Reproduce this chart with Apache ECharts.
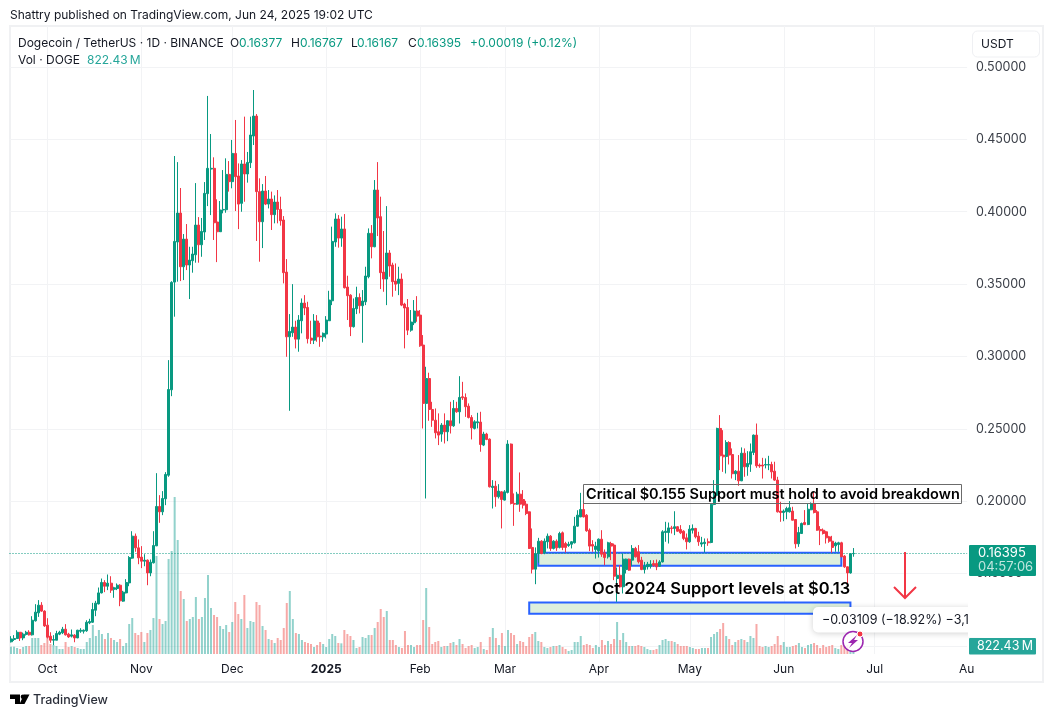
<!DOCTYPE html>
<html>
<head>
<meta charset="utf-8">
<style>html,body{margin:0;padding:0;background:#fff}#container{width:1054px;height:717px}</style>
<script src="https://cdn.jsdelivr.net/npm/echarts@6/dist/echarts.min.js"></script>
</head>
<body>
<div id="container"></div>
<script>
var opens = [
.1029,.1045,.1052,.1095,.1056,.1080,.1095,.1077,.1174,.1229,
.1282,.1241,.1144,.1068,.1040,.1040,.1082,.1091,.1116,.1082,
.1068,.1075,.1056,.1102,.1102,.1105,.1160,.1164,.1247,.1291,
.1367,.1439,.1413,.1434,.1392,.1397,.1420,.1310,.1367,.1436,
.1607,.1759,.1678,.1614,.1586,.1593,.1505,.1575,.1692,.1964,
.1927,.2017,.2180,.2770,.3514,.3791,.3991,.3620,.3811,.3632,
.3662,.3703,.3908,.3772,.3860,.4125,.4295,.4300,.3929,.3862,
.4012,.4014,.4258,.4208,.4403,.4247,.4058,.4330,.4261,.4339,
.4523,.4661,.4139,.3931,.4143,.4053,.4088,.3980,.4067,.4016,
.3943,.3583,.3136,.3164,.3203,.3120,.3247,.3369,.3339,.3127,
.3113,.3245,.3141,.3136,.3155,.3247,.3385,.3791,.3950,.3818,
.3881,.3480,.3424,.3206,.3330,.3408,.3351,.3378,.3551,.3851,
.3758,.4150,.3966,.3583,.3535,.3715,.3632,.3521,.3505,.3535,
.3362,.3339,.3182,.3233,.3314,.3286,.3079,.2676,.2848,.2634,
.2560,.2480,.2464,.2526,.2480,.2556,.2521,.2641,.2618,.2722,
.2717,.2657,.2579,.2503,.2542,.2547,.2388,.2464,.2429,.2095,
.2104,.2031,.2065,.2008,.2061,.2395,.1985,.1980,.2049,.2012,
.1980,.1927,.1681,.1531,.1639,.1724,.1644,.1720,.1759,.1674,
.1724,.1681,.1782,.1708,.1694,.1703,.1713,.1828,.1892,.1943,
.1904,.1800,.1701,.1667,.1657,.1738,.1644,.1616,.1708,.1697,
.1466,.1489,.1409,.1528,.1600,.1593,.1674,.1651,.1593,.1528,
.1547,.1551,.1570,.1570,.1551,.1581,.1784,.1784,.1816,.1812,
.1824,.1805,.1793,.1747,.1720,.1800,.1812,.1759,.1704,.1708,
.1720,.1715,.1978,.2042,.2503,.2319,.2309,.2406,.2323,.2190,
.2208,.2141,.2332,.2238,.2256,.2337,.2457,.2250,.2250,.2250,
.2250,.2254,.2208,.2146,.1932,.1922,.1927,.1927,.1932,.1874,
.1706,.1777,.1853,.1839,.1941,.1985,.1927,.1805,.1800,.1789,
.1754,.1724,.1692,.1701,.1713,.1621,.1547,.1505,.16377];
var closes = [
.1049,.1052,.1095,.1056,.1082,.1095,.1077,.1178,.1234,.1282,
.1241,.1139,.1061,.1040,.1045,.1086,.1095,.1116,.1077,.1063,
.1077,.1056,.1109,.1109,.1109,.1164,.1169,.1252,.1296,.1367,
.1439,.1413,.1434,.1386,.1402,.1420,.1312,.1372,.1439,.1611,
.1759,.1678,.1609,.1586,.1593,.1505,.1579,.1694,.1964,.1927,
.2019,.2185,.2772,.3512,.3795,.3991,.3620,.3811,.3632,.3666,
.3708,.3908,.3772,.3864,.4127,.4300,.4300,.3924,.3862,.4012,
.4016,.4258,.4208,.4403,.4242,.4053,.4330,.4261,.4341,.4530,
.4661,.4139,.3931,.4143,.4053,.4088,.3980,.4067,.4016,.3938,
.3579,.3136,.3173,.3203,.3120,.3252,.3369,.3335,.3123,.3113,
.3245,.3136,.3136,.3160,.3252,.3390,.3795,.3950,.3818,.3881,
.3475,.3420,.3206,.3332,.3408,.3351,.3383,.3556,.3851,.3758,
.4150,.3957,.3579,.3535,.3715,.3625,.3517,.3500,.3535,.3355,
.3335,.3182,.3238,.3314,.3279,.3074,.2676,.2848,.2634,.2560,
.2473,.2457,.2526,.2480,.2556,.2521,.2641,.2618,.2717,.2715,
.2653,.2579,.2507,.2549,.2549,.2392,.2464,.2427,.2100,.2104,
.2031,.2070,.2012,.2065,.2395,.1985,.1980,.2049,.1980,.1973,
.1915,.1674,.1531,.1639,.1724,.1639,.1724,.1759,.1674,.1724,
.1678,.1777,.1681,.1681,.1703,.1720,.1828,.1904,.1943,.1892,
.1796,.1690,.1690,.1690,.1738,.1634,.1611,.1713,.1690,.1482,
.1489,.1409,.1600,.1600,.1524,.1674,.1616,.1582,.1528,.1551,
.1565,.1565,.1558,.1547,.1581,.1789,.1793,.1816,.1812,.1824,
.1793,.1782,.1743,.1720,.1807,.1812,.1754,.1720,.1713,.1717,
.1713,.1978,.2042,.2503,.2314,.2307,.2406,.2319,.2190,.2208,
.2141,.2332,.2238,.2261,.2342,.2457,.2245,.2243,.2243,.2254,
.2254,.2203,.2146,.1927,.1922,.1932,.1950,.1955,.1869,.1706,
.1784,.1846,.1839,.1945,.1985,.1922,.1800,.1796,.1777,.1747,
.1724,.1681,.1711,.1713,.1616,.1547,.1505,.16377,.16395];
var highs = [
.1068,.1075,.1109,.1097,.1093,.1105,.1109,.1206,.1289,.1317,
.1303,.1247,.1192,.1095,.1075,.1105,.1105,.1132,.1151,.1091,
.1114,.1082,.1112,.1123,.1114,.1178,.1188,.1298,.1312,.1404,
.1466,.1455,.1494,.1482,.1409,.1432,.1427,.1381,.1462,.1621,
.1793,.1777,.1736,.1690,.1634,.1598,.1598,.1793,.2194,.2042,
.2070,.2201,.2975,.3520,.4385,.4343,.4164,.3846,.3915,.3758,
.3758,.4198,.3963,.3957,.4205,.4800,.4537,.4376,.4086,.4074,
.4288,.4369,.4350,.4496,.4634,.4334,.4357,.4657,.4413,.4657,
.4841,.4675,.4231,.4191,.4247,.4150,.4139,.4113,.4150,.4104,
.3970,.3673,.3293,.3500,.3247,.3286,.3401,.3424,.3378,.3247,
.3293,.3286,.3233,.3166,.3279,.3454,.3897,.3989,.3977,.3966,
.3984,.3558,.3430,.3401,.3482,.3436,.3459,.3620,.3885,.3908,
.4219,.4343,.4104,.3867,.4039,.3735,.3648,.3643,.3620,.3574,
.3371,.3397,.3321,.3390,.3417,.3321,.3148,.2929,.2888,.2687,
.2641,.2607,.2540,.2607,.2560,.2687,.2699,.2687,.2864,.2825,
.2745,.2676,.2595,.2560,.2611,.2618,.2480,.2473,.2434,.2146,
.2141,.2118,.2070,.2077,.2422,.2399,.2054,.2065,.2199,.2077,
.2003,.1930,.1812,.1681,.1747,.1731,.1743,.1777,.1766,.1731,
.1736,.1789,.1791,.1720,.1720,.1724,.1892,.1938,.2058,.2012,
.1911,.1812,.1731,.1720,.1743,.1800,.1667,.1720,.1720,.1708,
.1542,.1558,.1639,.1604,.1604,.1697,.1685,.1697,.1616,.1581,
.1581,.1593,.1593,.1597,.1593,.1800,.1858,.1853,.1830,.1931,
.1828,.1835,.1800,.1777,.1835,.1840,.1816,.1789,.1754,.1743,
.1743,.1985,.2146,.2508,.2595,.2491,.2422,.2415,.2365,.2215,
.2319,.2372,.2365,.2346,.2399,.2461,.2537,.2261,.2300,.2296,
.2314,.2273,.2273,.2169,.1996,.1943,.1962,.2001,.1962,.1876,
.1823,.1853,.1939,.1985,.1992,.2065,.1939,.1828,.1812,.1796,
.1761,.1761,.1720,.1720,.1720,.1628,.1549,.1640,.16767];
var lows = [
.1024,.1035,.1050,.1035,.1040,.1072,.1072,.1072,.1169,.1201,
.1236,.1132,.1052,.1022,.1006,.1040,.1075,.1082,.1072,.1056,
.1059,.1026,.1054,.1091,.1086,.1098,.1151,.1160,.1206,.1287,
.1363,.1372,.1386,.1367,.1333,.1386,.1275,.1305,.1363,.1413,
.1602,.1651,.1565,.1538,.1551,.1420,.1482,.1570,.1690,.1851,
.1904,.1973,.2169,.2726,.3275,.3517,.3521,.3528,.3597,.3397,
.3579,.3648,.3648,.3689,.3805,.4039,.3977,.3805,.3652,.3908,
.3989,.3993,.4139,.4162,.4005,.3880,.4000,.4069,.4201,.4302,
.4461,.3798,.3655,.3749,.4046,.4023,.3874,.3920,.3920,.3904,
.3505,.2998,.2625,.3136,.3056,.3033,.3160,.3286,.3090,.3086,
.3086,.3102,.3067,.3102,.3125,.3245,.3355,.3758,.3752,.3758,
.3470,.3252,.3141,.3200,.3293,.3298,.3095,.3355,.3540,.3678,
.3755,.3832,.3466,.3447,.3355,.3551,.3413,.3454,.3424,.3348,
.3056,.3148,.3171,.3217,.3240,.3067,.2503,.2019,.2556,.2514,
.2434,.2388,.2411,.2399,.2415,.2468,.2514,.2611,.2537,.2700,
.2583,.2572,.2427,.2496,.2503,.2342,.2381,.2422,.2095,.1950,
.1962,.2019,.1812,.2005,.2054,.1978,.1830,.1975,.1927,.1950,
.1904,.1670,.1501,.1427,.1575,.1634,.1634,.1674,.1657,.1667,
.1657,.1674,.1662,.1646,.1685,.1674,.1708,.1824,.1890,.1888,
.1789,.1655,.1651,.1604,.1611,.1616,.1558,.1604,.1593,.1455,
.1305,.1404,.1363,.1501,.1519,.1551,.1611,.1570,.1524,.1501,
.1528,.1535,.1547,.1524,.1547,.1577,.1720,.1708,.1777,.1766,
.1789,.1773,.1731,.1667,.1713,.1777,.1743,.1692,.1685,.1646,
.1692,.1710,.1973,.2038,.2215,.2203,.2192,.2254,.2157,.2146,
.2107,.2139,.2169,.2176,.2203,.2319,.2231,.2231,.2157,.2227,
.2215,.2157,.2141,.1922,.1858,.1862,.1876,.1922,.1867,.1674,
.1685,.1775,.1835,.1835,.1938,.1916,.1796,.1697,.1770,.1708,
.1713,.1644,.1651,.1651,.1614,.1540,.1434,.1500,.16167];
// volume in billions of DOGE
var volumes = [
2.2,2.2,1.8,1.5,2.1,2.4,2.4,4.8,4.8,4.8,
2.7,3.3,5.1,3.0,2.7,2.4,1.5,1.5,3.6,2.1,
2.4,2.1,1.8,1.5,1.5,3.6,4.8,8.7,5.4,7.2,
6.0,4.5,6.3,4.8,4.2,3.6,4.5,2.4,3.3,9.0,
10.8,6.3,5.7,6.6,3.6,6.3,7.2,10.8,29.4,10.5,
9.0,9.9,28.5,30.9,47.1,34.2,18.9,16.5,9.9,10.5,
11.1,17.1,10.5,11.1,16.8,23.7,13.8,11.7,11.1,8.4,
7.5,8.7,6.6,9.6,15.6,12.0,10.5,17.7,7.8,9.9,
9.6,15.6,14.7,8.4,7.2,4.5,4.2,3.3,4.8,4.2,
7.8,15.3,18.9,10.5,6.3,6.0,4.2,3.6,3.3,3.0,
2.1,2.7,3.6,3.0,2.1,4.5,6.0,5.4,3.3,3.2,
7.2,6.0,5.4,4.2,1.8,2.1,5.1,4.8,5.7,5.7,
7.8,9.6,13.5,11.1,12.9,4.2,4.2,2.7,2.1,1.8,
6.9,2.7,2.7,2.1,2.7,2.7,10.2,19.8,8.1,3.0,
3.6,3.9,2.1,2.4,2.4,3.3,3.6,2.7,4.5,3.0,
1.8,2.4,2.7,1.8,2.1,3.6,1.5,1.2,5.1,7.8,
4.8,2.7,6.3,2.4,7.2,6.3,5.7,3.0,3.9,3.6,
2.4,5.1,6.0,6.6,3.9,3.6,2.1,1.8,2.1,2.4,
2.4,2.7,2.1,1.5,0.9,1.2,3.6,3.6,5.4,2.7,
3.0,2.7,1.8,2.7,2.1,4.2,2.7,3.9,3.0,4.5,
9.6,4.2,6.3,3.6,2.4,2.4,2.4,2.7,2.4,2.1,
1.5,1.2,1.2,1.5,2.7,4.2,4.5,3.9,3.9,3.6,
3.0,2.4,2.4,2.4,2.1,1.8,1.5,1.5,1.8,1.8,
1.8,5.1,6.0,6.6,7.5,9.3,5.4,4.5,2.7,3.6,
4.2,4.5,4.2,3.6,5.4,4.8,9.0,2.4,2.1,2.4,
2.1,2.4,3.0,5.4,2.7,3.6,2.1,2.1,2.4,2.7,
3.3,2.1,1.8,2.7,3.0,3.3,2.7,1.8,2.7,2.1,
2.4,2.7,1.8,1.5,2.7,2.4,2.7,1.2,0.82243];

var monthTicks = {
    '2024-10-01':'Oct','2024-11-01':'Nov','2024-12-01':'Dec','2025-01-01':'2025',
    '2025-02-01':'Feb','2025-03-01':'Mar','2025-04-01':'Apr','2025-05-01':'May',
    '2025-06-01':'Jun','2025-07-01':'Jul'
};
// two support zones: [first day, last day, top price, bottom price]
var zoneA = ['2025-03-12','2025-06-20',0.16436,0.1555];
var zoneB = ['2025-03-09','2025-06-23',0.1301,0.1222];
var lastPrice = 0.16395;

var dates = [];
for (var d = 0; d < 316; d++) {
    dates.push(new Date(Date.UTC(2024, 8, 19 + d)).toISOString().slice(0, 10));
}
var candles = opens.map(function (o, i) { return [o, closes[i], lows[i], highs[i]]; });

var GREEN = '#089981', RED = '#F23645', INK = '#131722';
var gridColor = '#F2F3F5';
function isTick(i, v) { return monthTicks[v] !== undefined; }
function txt(x, y, text, font, fill) {
    return {type: 'text', z: 100, silent: true, style: {x: x, y: y, text: text, font: font, fill: fill, verticalAlign: 'middle'}};
}
var F12 = '12px Inter, sans-serif';

var graphics = [
    // frame
    {type: 'rect', z: 0, silent: true, shape: {x: 10, y: 26, width: 1033, height: 656}, style: {fill: 'none', stroke: '#F0F1F3', lineWidth: 2}},
    txt(10, 15, 'Shattry published on TradingView.com, Jun 24, 2025 19:02 UTC', F12, INK),
    txt(18, 43, 'Dogecoin / TetherUS · 1D · BINANCE', F12, INK),
    txt(230, 43, 'O', F12, INK), txt(239, 43, '0.16377', F12, GREEN),
    txt(291, 43, 'H', F12, INK), txt(300, 43, '0.16767', F12, GREEN),
    txt(351, 43, 'L', F12, INK), txt(357, 43, '0.16167', F12, GREEN),
    txt(408, 43, 'C', F12, INK), txt(417, 43, '0.16395', F12, GREEN),
    txt(470, 43, '+0.00019 (+0.12%)', F12, GREEN),
    txt(18, 60, 'Vol · DOGE', F12, INK), txt(87, 60, '822.43\u2009M', F12, '#26A69A'),
    // currency button
    {type: 'rect', z: 100, silent: true, shape: {x: 972.5, y: 31, width: 67, height: 26, r: 5}, style: {fill: '#fff', stroke: '#EFF0F3', lineWidth: 1}},
    txt(981, 44, 'USDT', F12, INK),
    // annotation text boxes
    {type: 'rect', z: 90, silent: true, shape: {x: 583.5, y: 484.5, width: 378, height: 19}, style: {fill: 'none', stroke: '#6B6B6B', lineWidth: 1}},
    txt(586, 495, 'Critical $0.155 Support must hold to avoid breakdown', '600 14.5px Inter, sans-serif', '#000'),
    txt(592, 589, 'Oct 2024 Support levels at $0.13', '600 16.45px Inter, sans-serif', '#000'),
    // projection arrow
    {type: 'line', z: 90, silent: true, shape: {x1: 905, y1: 552, x2: 905, y2: 598}, style: {stroke: RED, lineWidth: 2}},
    {type: 'polyline', z: 90, silent: true, shape: {points: [[894, 587], [905, 598], [916, 587]]}, style: {fill: 'none', stroke: RED, lineWidth: 2}},
    // measure tooltip
    {type: 'rect', z: 92, silent: true, shape: {x: 813, y: 607, width: 170, height: 25.5, r: 5}, style: {fill: '#fff', shadowBlur: 6, shadowColor: 'rgba(0,0,0,0.18)', shadowOffsetY: 1}},
    txt(822, 620.5, '−0.03109 (−18.92%) −3,1', '12.5px Inter, sans-serif', INK),
    {type: 'rect', z: 101, silent: true, shape: {x: 968, y: 600, width: 72, height: 37}, style: {fill: '#fff'}},
    // price tag
    {type: 'rect', z: 99, silent: true, shape: {x: 969, y: 545, width: 67, height: 31, r: 1}, style: {fill: GREEN}},
    txt(978, 553, '0.16395', '13px Inter, sans-serif', '#fff'),
    txt(978, 567.5, '04:57:06', '13px Inter, sans-serif', '#BFE6DE'),
    // volume tag
    {type: 'rect', z: 99, silent: true, shape: {x: 969, y: 638, width: 67, height: 16.5, r: 1}, style: {fill: '#26A69A'}},
    txt(977, 646.5, '822.43\u2009M', '12.5px Inter, sans-serif', '#fff'),
    // lightning badge
    {type: 'circle', z: 95, silent: true, shape: {cx: 853, cy: 641.5, r: 10}, style: {fill: 'rgba(255,255,255,0.85)', stroke: '#9C27B0', lineWidth: 1.5}},
    {type: 'polygon', z: 96, silent: true, shape: {points: [[857, 635], [848, 643], [852, 643], [849, 648], [858, 640], [854, 640]]}, style: {fill: '#9C27B0'}},
    {type: 'circle', z: 96, silent: true, shape: {cx: 860, cy: 634, r: 3}, style: {fill: RED, stroke: '#fff', lineWidth: 1}},
    // clipped last time label
    txt(959, 669, 'Au', F12, INK),
    // TradingView logo
    {type: 'polygon', z: 100, silent: true, shape: {points: [[10, 694.5], [20, 694.5], [20, 704], [15, 704], [15, 699], [10, 699]]}, style: {fill: '#000'}},
    {type: 'circle', z: 100, silent: true, shape: {cx: 23, cy: 696.8, r: 2.3}, style: {fill: '#000'}},
    {type: 'polygon', z: 100, silent: true, shape: {points: [[24, 694.5], [29.5, 694.5], [24.5, 704], [19.5, 704]]}, style: {fill: '#000'}},
    txt(33, 700.5, 'TradingView', '500 12.5px Inter, sans-serif', '#2A2E39')
];

var myChart = echarts.init(document.getElementById('container'));
var option = {
    animation: false,
    backgroundColor: '#fff',
    textStyle: {fontFamily: 'Inter, sans-serif'},
    // price pane: 0.10..0.50, volume pane shares the whole height
    grid: [
        {left: 9.5, width: 957.6, top: 67, height: 579},
        {left: 9.5, width: 957.6, top: 26, height: 628}
    ],
    xAxis: [
        {type: 'category', gridIndex: 0, data: dates, show: false},
        {
            type: 'category', gridIndex: 1, data: dates,
            axisLine: {show: false}, axisTick: {show: false},
            axisLabel: {
                interval: isTick, margin: 9, fontSize: 12, color: INK,
                formatter: function (v) { return v === '2025-01-01' ? '{b|2025}' : monthTicks[v]; },
                rich: {b: {fontWeight: 700, fontSize: 12, color: INK}}
            },
            splitLine: {show: true, interval: isTick, alignWithLabel: true, lineStyle: {color: gridColor, width: 1}}
        }
    ],
    yAxis: [
        {
            type: 'value', gridIndex: 0, position: 'right', min: 0.1, max: 0.5, interval: 0.05,
            axisLine: {show: false}, axisTick: {show: false},
            axisLabel: {margin: 9, fontSize: 12.5, color: '#3C4049', padding: [2, 0, 0, 0], formatter: function (v) { return v.toFixed(5); }},
            splitLine: {show: true, lineStyle: {color: gridColor, width: 1}}
        },
        {type: 'value', gridIndex: 1, min: 0, max: 188.4, show: false, splitLine: {show: false}}
    ],
    graphic: graphics,
    series: [
        {
            type: 'bar', name: 'Vol', xAxisIndex: 1, yAxisIndex: 1, z: 1, barWidth: 2,
            data: volumes.map(function (v, i) {
                return {value: v, itemStyle: {color: closes[i] >= opens[i] ? 'rgba(38,166,154,0.5)' : 'rgba(239,83,80,0.5)'}};
            })
        },
        {
            type: 'candlestick', name: 'DOGEUSDT', xAxisIndex: 0, yAxisIndex: 0, z: 3, barWidth: 2.5,
            data: candles,
            itemStyle: {color: GREEN, color0: RED, borderColor: GREEN, borderColor0: RED, borderWidth: 1},
            markLine: {
                silent: true, symbol: 'none', z: 2, precision: 5, label: {show: false},
                lineStyle: {color: GREEN, type: [1, 2], width: 1},
                data: [{yAxis: lastPrice}]
            },
            markArea: {
                silent: true, z: 1,
                itemStyle: {color: '#DDEFDD', borderColor: '#2962FF', borderWidth: 2},
                data: [
                    [{xAxis: zoneA[0], yAxis: zoneA[2]}, {xAxis: zoneA[1], yAxis: zoneA[3]}],
                    [{xAxis: zoneB[0], yAxis: zoneB[2]}, {xAxis: zoneB[1], yAxis: zoneB[3]}]
                ]
            }
        }
    ]
};
myChart.setOption(option, true);
</script>
</body>
</html>
